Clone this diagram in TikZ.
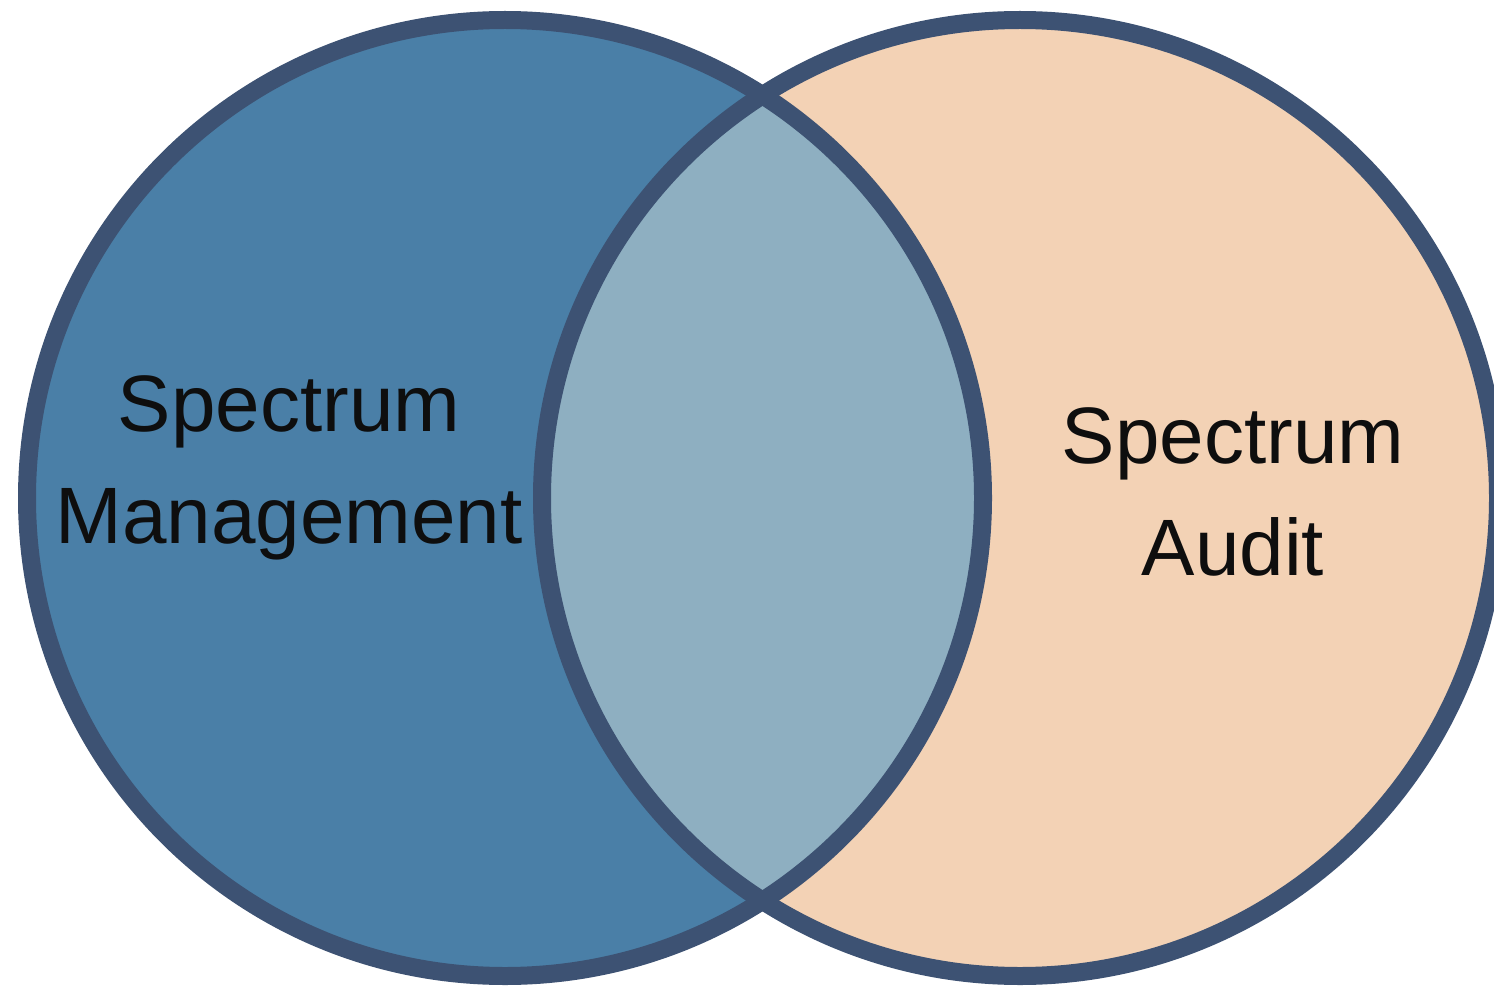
\documentclass[tikz,border=0pt]{standalone}
\usepackage{fontspec}
\setmainfont{Liberation Sans}
\definecolor{leftfill}{RGB}{74,127,167}
\definecolor{rightfill}{RGB}{243,210,181}
\definecolor{lensfill}{RGB}{142,175,193}
\definecolor{rimcolor}{RGB}{61,82,115}
\definecolor{labelink}{RGB}{14,14,14}
\begin{document}
\begin{tikzpicture}[x=1pt,y=-1pt,
  rim/.style={draw=rimcolor,line width=18pt},
  setlabel/.style={text=labelink,align=center,anchor=base,inner sep=0pt,
    font=\fontsize{80}{112}\selectfont}]
  \useasboundingbox (0,0) rectangle (1494,987);
  % the two sets
  \coordinate (lc) at (505,498);
  \coordinate (rc) at (1020,498);
  \fill[leftfill] (lc) circle[radius=478];
  \fill[rightfill] (rc) circle[radius=478];
  % overlap of the two sets
  \begin{scope}
    \clip (lc) circle[radius=478];
    \fill[lensfill] (rc) circle[radius=478];
  \end{scope}
  % outlines
  \draw[rim] (lc) circle[radius=478];
  \draw[rim] (rc) circle[radius=478];
  % labels (base anchor sits on the last line)
  \node[setlabel] (mgmt) at (289,543) {Spectrum\\Management};
  \node[setlabel] (audit) at (1233,575) {Spectrum\\Audit};
\end{tikzpicture}
\end{document}
